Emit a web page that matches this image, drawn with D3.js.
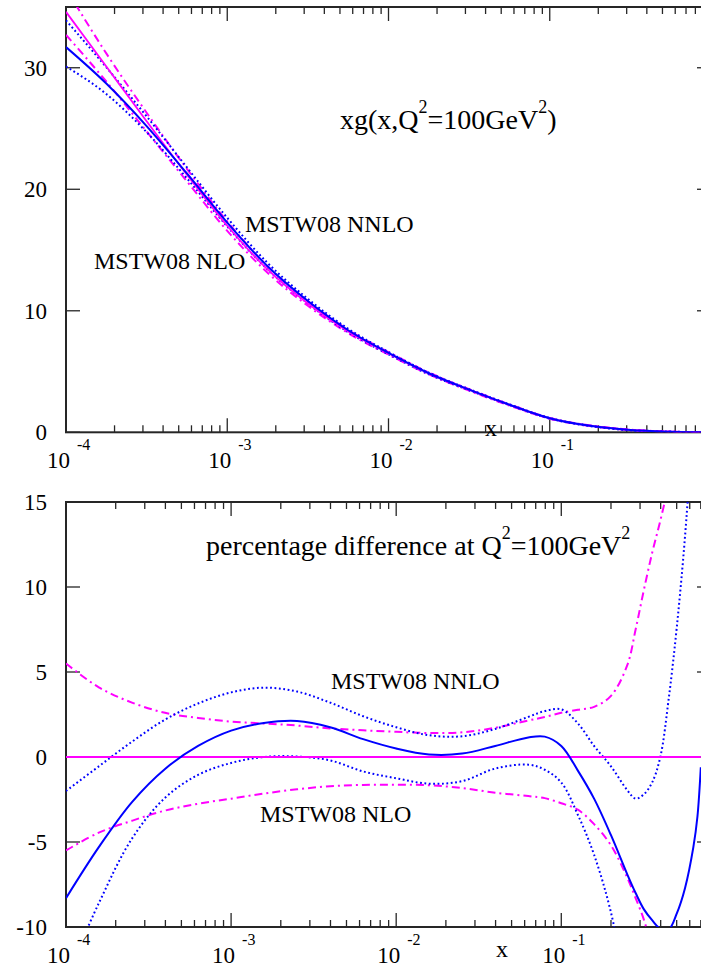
<!DOCTYPE html>
<html>
<head>
<meta charset="utf-8">
<script src="https://cdn.jsdelivr.net/npm/d3@7"></script>
<style>
  html, body { margin: 0; padding: 0; background: #fff; }
  svg { display: block; }
</style>
</head>
<body>
<svg id="chart" width="701" height="969"></svg>
<script>
// ---------- data: gluon xg(x, Q^2 = 100 GeV^2) ----------
const gluonX = [1e-4, 1.778e-4, 3.162e-4, 5.623e-4, 1e-3, 1.778e-3, 3.162e-3, 5.623e-3,
                0.01, 0.01778, 0.03162, 0.05623, 0.1, 0.1778, 0.3162, 0.5623, 0.9];
const nloCentral = [34.6, 30.1, 25.6, 21.2, 17.0, 13.4, 10.6, 8.3, 6.5, 4.85, 3.5, 2.25, 1.15, 0.55, 0.2, 0.05, 0.003];
const nloUpper   = [36.5, 31.18, 26.3, 21.68, 17.35, 13.66, 10.79, 8.43, 6.6, 4.92, 3.55, 2.3, 1.18, 0.57, 0.22, 0.06, 0.004];
const nloLower   = [32.7, 28.87, 24.76, 20.65, 16.58, 13.13, 10.41, 8.16, 6.39, 4.77, 3.43, 2.2, 1.12, 0.525, 0.18, 0.045, 0.003];
const nnloCentral = [31.7, 28.7, 25.2, 21.3, 17.26, 13.67, 10.81, 8.4, 6.53, 4.86, 3.51, 2.27, 1.16, 0.53, 0.18, 0.046, 0.003];
const nnloUpper   = [33.9, 30.04, 26.0, 21.8, 17.65, 13.94, 10.98, 8.52, 6.61, 4.91, 3.55, 2.3, 1.18, 0.55, 0.196, 0.057, 0.004];
const nnloLower   = [30.1, 27.84, 24.7, 20.9, 16.94, 13.4, 10.6, 8.24, 6.42, 4.77, 3.46, 2.24, 1.13, 0.51, 0.16, 0.04, 0.002];

// ---------- data: percentage difference relative to MSTW08 NLO ----------
const pctX = [1.0e-4, 1.58e-4, 2.51e-4, 3.98e-4, 6.31e-4, 1.0e-3, 1.58e-3, 2.51e-3, 3.98e-3, 6.31e-3,
              0.01, 0.0158, 0.0251, 0.0398, 0.0631, 0.0794, 0.1, 0.126, 0.158, 0.2,
              0.251, 0.282, 0.316, 0.355, 0.398, 0.447, 0.501, 0.562, 0.631, 0.668, 0.7];
const pctNloCentral = pctX.map(() => 0);
const pctNloUpper = [5.5, 4.1, 3.2, 2.6, 2.3, 2.08, 1.97, 1.85, 1.68, 1.57,
                     1.48, 1.41, 1.45, 1.72, 2.15, 2.35, 2.6, 2.78, 2.95, 3.6,
                     5.4, 7.5, 9.8, 12.0, 13.9, 16.0, null, null, null, null, null];
const pctNloLower = [-5.5, -4.45, -3.75, -3.15, -2.75, -2.45, -2.15, -1.9, -1.72, -1.64,
                     -1.63, -1.66, -1.83, -2.1, -2.3, -2.42, -2.72, -3.1, -3.95, -5.2,
                     -7.1, -8.3, -9.55, -11.3, null, null, null, null, null, null, null];
const pctNnloCentral = [-8.3, -5.3, -2.65, -0.7, 0.65, 1.55, 2.0, 2.12, 1.75, 1.05,
                        0.5, 0.15, 0.2, 0.65, 1.15, 1.2, 0.65, -0.8, -2.45, -4.6,
                        -6.9, -8.0, -8.95, -9.6, -10.1, -10.15, -9.2, -7.7, -5.3, -3.5, -0.6];
const pctNnloUpper = [-2.0, -0.55, 0.9, 2.2, 3.15, 3.8, 4.08, 3.85, 3.2, 2.4,
                      1.75, 1.28, 1.22, 1.65, 2.36, 2.7, 2.8, 1.98, 0.65, -0.55,
                      -1.95, -2.45, -2.2, -1.5, 0.0, 3.4, 7.65, 13.0, 20.0, null, null];
const pctNnloLower = [-13.0, -8.6, -4.8, -2.4, -1.05, -0.35, 0.0, 0.03, -0.2, -0.85,
                      -1.25, -1.57, -1.42, -0.68, -0.45, -0.75, -1.5, -3.4, -5.75, -9.15,
                      -14.0, null, null, null, null, null, null, null, null, null, null];

// ---------- axis tick values ----------
const gluonYTicks = [0, 10, 20, 30];
const pctYTicks = [-10, -5, 0, 5, 10, 15];

// ---------- styling ----------
const FONT = "'Liberation Serif','Times New Roman',Times,serif";
const AXIS = "#262626";
const MAGENTA = "#ff00ff";
const BLUE = "#0000ff";

const svg = d3.select("#chart");

function drawPanel(cfg) {
  const g = svg.append("g");
  const x = d3.scaleLog().domain(cfg.xDomain).range([cfg.left, cfg.right]);
  const y = d3.scaleLinear().domain(cfg.yDomain).range([cfg.bottom, cfg.top]);

  const clipId = "clip-" + cfg.id;
  svg.append("clipPath").attr("id", clipId)
    .append("rect")
    .attr("x", cfg.left).attr("y", cfg.top)
    .attr("width", cfg.right - cfg.left).attr("height", cfg.bottom - cfg.top);

  // x ticks (bottom and top edges): decades long, 2..9 short
  const xt = x.ticks();
  xt.forEach(v => {
    const lg = Math.log10(v);
    const major = Math.abs(lg - Math.round(lg)) < 1e-9;
    const len = major ? 14 : 7;
    const px = x(v);
    g.append("line").attr("x1", px).attr("x2", px)
      .attr("y1", cfg.bottom).attr("y2", cfg.bottom - len)
      .attr("stroke", AXIS).attr("stroke-width", 1.3);
    g.append("line").attr("x1", px).attr("x2", px)
      .attr("y1", cfg.top).attr("y2", cfg.top + len)
      .attr("stroke", AXIS).attr("stroke-width", 1.3);
    if (major && px < 700) {
      g.append("text").attr("x", px + 4).attr("y", cfg.bottom + 36)
        .attr("text-anchor", "end").attr("font-family", FONT).attr("font-size", 23)
        .text("10");
      g.append("text").attr("x", px + 11).attr("y", cfg.bottom + 18)
        .attr("font-family", FONT).attr("font-size", 16)
        .text(String(Math.round(lg)));
    }
  });

  // y ticks (left and right edges)
  cfg.yTicks.forEach(v => {
    const py = y(v);
    g.append("line").attr("x1", cfg.left).attr("x2", cfg.left + 14)
      .attr("y1", py).attr("y2", py).attr("stroke", AXIS).attr("stroke-width", 1.3);
    g.append("line").attr("x1", cfg.right).attr("x2", cfg.right - 14)
      .attr("y1", py).attr("y2", py).attr("stroke", AXIS).attr("stroke-width", 1.3);
    g.append("text").attr("x", 47).attr("y", py + 8)
      .attr("text-anchor", "end").attr("font-family", FONT).attr("font-size", 23)
      .text(String(v));
  });

  // frame
  g.append("rect")
    .attr("x", cfg.left).attr("y", cfg.top)
    .attr("width", cfg.right - cfg.left).attr("height", cfg.bottom - cfg.top)
    .attr("fill", "none").attr("stroke", AXIS).attr("stroke-width", 2);

  const curves = svg.append("g").attr("clip-path", `url(#${clipId})`);
  return { x, y, curves };
}

function addCurve(panel, xs, ys, style, curveType) {
  const pts = xs.map((xv, i) => ({ x: xv, v: ys[i] }));
  const line = d3.line()
    .defined(d => d.v !== null && d.v !== undefined)
    .x(d => panel.x(d.x))
    .y(d => panel.y(d.v))
    .curve(curveType);
  panel.curves.append("path")
    .datum(pts)
    .attr("d", line)
    .attr("fill", "none")
    .attr("stroke", style.color)
    .attr("stroke-width", style.width)
    .attr("stroke-dasharray", style.dash || null);
}

function addLabel(x, y, parts, size) {
  // parts: array of [text, isSuperscript]
  const t = svg.append("text").attr("x", x).attr("y", y)
    .attr("font-family", FONT).attr("font-size", size).attr("fill", "#000");
  let raised = false;
  parts.forEach(([s, sup]) => {
    const ts = t.append("tspan").text(s);
    if (sup && !raised) { ts.attr("dy", -16); raised = true; }
    else if (!sup && raised) { ts.attr("dy", 16); raised = false; }
    if (sup) ts.attr("font-size", 18);
  });
  return t;
}

const solidNlo = { color: MAGENTA, width: 1.8 };
const bandNlo = { color: MAGENTA, width: 2, dash: "8,4,2,4" };
const solidNnlo = { color: BLUE, width: 2 };
const bandNnlo = { color: BLUE, width: 2, dash: "1.8,2.6" };

// ---------- upper panel: xg ----------
const gluonPanel = drawPanel({
  id: "gluon", left: 66, right: 711, top: 7, bottom: 432.3,
  xDomain: [1e-4, 1], yDomain: [0, 35], yTicks: gluonYTicks
});
const mono = d3.curveMonotoneX;
addCurve(gluonPanel, gluonX, nloUpper, bandNlo, mono);
addCurve(gluonPanel, gluonX, nloLower, bandNlo, mono);
addCurve(gluonPanel, gluonX, nnloUpper, bandNnlo, mono);
addCurve(gluonPanel, gluonX, nnloLower, bandNnlo, mono);
addCurve(gluonPanel, gluonX, nloCentral, solidNlo, mono);
addCurve(gluonPanel, gluonX, nnloCentral, solidNnlo, mono);

addLabel(340, 129, [["xg(x,Q", false], ["2", true], ["=100GeV", false], ["2", true], [")", false]], 28);
addLabel(245, 232, [["MSTW08 NNLO", false]], 24);
addLabel(94, 269, [["MSTW08 NLO", false]], 24);
svg.append("text").attr("x", 491).attr("y", 436).attr("text-anchor", "middle")
  .attr("font-family", FONT).attr("font-size", 24).text("x");

// ---------- lower panel: percentage difference ----------
const pctPanel = drawPanel({
  id: "pct", left: 66, right: 711, top: 502, bottom: 927,
  xDomain: [1e-4, 0.807], yDomain: [-10, 15], yTicks: pctYTicks
});
const cr = d3.curveCatmullRom.alpha(0.5);
addCurve(pctPanel, pctX, pctNloUpper, bandNlo, cr);
addCurve(pctPanel, pctX, pctNloLower, bandNlo, cr);
addCurve(pctPanel, pctX, pctNnloUpper, bandNnlo, cr);
addCurve(pctPanel, pctX, pctNnloLower, bandNnlo, cr);
addCurve(pctPanel, pctX, pctNloCentral, solidNlo, d3.curveLinear);
addCurve(pctPanel, pctX, pctNnloCentral, solidNnlo, cr);

addLabel(206, 555, [["percentage difference at Q", false], ["2", true], ["=100GeV", false], ["2", true]], 28);
addLabel(331, 689, [["MSTW08 NNLO", false]], 24);
addLabel(260, 822, [["MSTW08 NLO", false]], 24);
svg.append("text").attr("x", 502).attr("y", 957).attr("text-anchor", "middle")
  .attr("font-family", FONT).attr("font-size", 24).text("x");
</script>
</body>
</html>
